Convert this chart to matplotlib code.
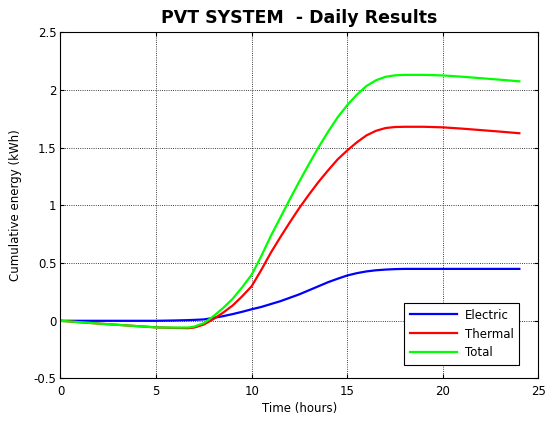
import matplotlib
matplotlib.use('Agg')
import matplotlib.pyplot as plt

# hours of the day
time_h = [0, 1, 2, 3, 4, 5, 6, 6.7, 7, 7.5, 8, 8.5, 9, 9.5, 10, 10.5, 11, 11.5,
          12, 12.5, 13, 13.5, 14, 14.5, 15, 15.5, 16, 16.5, 17, 17.5, 18, 19,
          20, 21, 22, 23, 24]

electric = [0, 0, 0, 0, 0, 0, 0.003, 0.006, 0.008, 0.012, 0.025, 0.04, 0.058,
            0.078, 0.1, 0.12, 0.145, 0.17, 0.2, 0.23, 0.265, 0.3, 0.335, 0.365,
            0.393, 0.413, 0.428, 0.438, 0.444, 0.448, 0.45, 0.45, 0.45, 0.45,
            0.45, 0.45, 0.45]

thermal = [0, -0.012, -0.024, -0.035, -0.046, -0.057, -0.062, -0.064, -0.058,
           -0.032, 0.015, 0.07, 0.132, 0.212, 0.3, 0.44, 0.59, 0.725, 0.855,
           0.98, 1.095, 1.205, 1.305, 1.4, 1.477, 1.547, 1.607, 1.647, 1.671,
           1.68, 1.682, 1.682, 1.677, 1.666, 1.653, 1.64, 1.626]

total = [0, -0.012, -0.024, -0.035, -0.046, -0.057, -0.059, -0.058, -0.05,
         -0.02, 0.04, 0.11, 0.19, 0.29, 0.4, 0.56, 0.735, 0.895, 1.055, 1.21,
         1.36, 1.505, 1.64, 1.765, 1.87, 1.96, 2.035, 2.085, 2.115, 2.128,
         2.132, 2.132, 2.127, 2.116, 2.103, 2.09, 2.076]

plt.rcParams['font.family'] = ['DejaVu Sans']

fig = plt.figure(figsize=(5.45, 4.21), dpi=100)
ax = fig.add_axes([0.111, 0.101, 0.877, 0.822])

ax.plot(time_h, electric, color='#0000ff', lw=1.6, label='Electric')
ax.plot(time_h, thermal, color='#ff0000', lw=1.6, label='Thermal')
ax.plot(time_h, total, color='#00ff00', lw=1.6, label='Total')

ax.set_xlim(0, 25)
ax.set_ylim(-0.5, 2.5)
ax.set_xticks([0, 5, 10, 15, 20, 25])
ax.set_yticks([-0.5, 0, 0.5, 1, 1.5, 2, 2.5])
ax.set_yticklabels(['-0.5', '0', '0.5', '1', '1.5', '2', '2.5'])
ax.tick_params(direction='in', top=True, right=True, labelsize=8.5, length=3)
ax.tick_params(axis='x', pad=4.5)
ax.tick_params(axis='y', pad=3)
ax.grid(True, color='black', linestyle=':', linewidth=0.6)
for s in ax.spines.values():
    s.set_linewidth(0.8)

ax.set_title('PVT SYSTEM  - Daily Results', fontsize=12.5, fontweight='bold', pad=7)
ax.set_xlabel('Time (hours)', fontsize=8.5, labelpad=3)
ax.set_ylabel('Cumulative energy (kWh)', fontsize=8.5, labelpad=8)

leg = ax.legend(loc='lower right', bbox_to_anchor=(0.96, 0.038), borderaxespad=0,
                fontsize=8.5, fancybox=False, framealpha=1, edgecolor='black',
                handlelength=4.0, handletextpad=0.6, borderpad=0.5,
                labelspacing=0.5)
leg.get_frame().set_linewidth(0.8)

fig.savefig('out.png', dpi=100)
